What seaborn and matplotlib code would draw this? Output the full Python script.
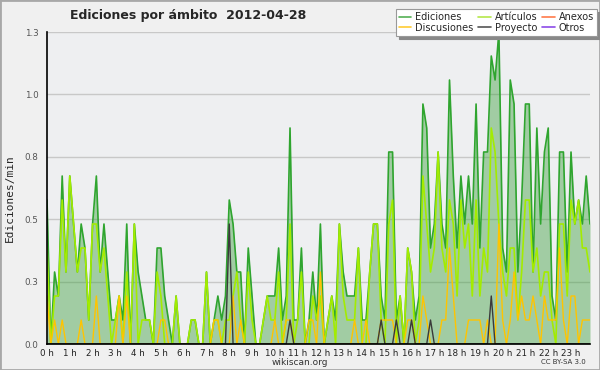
import numpy as np
import pandas as pd
import matplotlib
matplotlib.use("Agg")
import matplotlib.pyplot as plt
import seaborn as sns
from matplotlib.ticker import MultipleLocator
from matplotlib.lines import Line2D
from matplotlib.patches import Rectangle

# ---------------- data (edits per 10-minute bin) ----------------
title = "Ediciones por ámbito  2012-04-28"
bin_minutes = 10.4   # conversion of edits per bin -> edits/min as plotted

ediciones = [6, 0, 3, 2, 7, 3, 7, 5, 3, 5, 4, 1, 5, 7, 3, 5, 3, 1, 1, 2,
             1, 5, 0, 5, 3, 2, 1, 1, 0, 4, 4, 2, 1, 0, 2, 0, 0, 0, 1, 1,
             0, 0, 3, 0, 1, 2, 1, 2, 6, 5, 3, 3, 0, 4, 2, 0, 0, 1, 2, 2,
             2, 4, 1, 2, 9, 1, 1, 4, 0, 1, 3, 1, 5, 0, 1, 2, 1, 5, 3, 2,
             2, 2, 4, 1, 1, 3, 5, 5, 2, 1, 8, 8, 1, 2, 0, 4, 3, 1, 2, 10,
             9, 4, 5, 8, 5, 4, 11, 7, 4, 7, 5, 7, 5, 10, 4, 8, 8, 12, 11, 13,
             4, 3, 11, 10, 3, 6, 10, 10, 3, 9, 5, 8, 9, 2, 1, 8, 8, 3, 8, 5,
             6, 5, 7, 5]
articulos = [4, 0, 2, 2, 6, 3, 7, 5, 3, 4, 4, 1, 5, 5, 3, 4, 2, 0, 1, 2,
             0, 3, 0, 5, 0, 1, 1, 1, 0, 3, 2, 0, 0, 0, 2, 0, 0, 0, 1, 1,
             0, 0, 3, 0, 1, 1, 0, 1, 1, 2, 3, 1, 0, 3, 1, 0, 0, 1, 2, 1,
             1, 3, 0, 1, 5, 0, 1, 3, 0, 0, 2, 1, 2, 0, 1, 2, 0, 5, 2, 1,
             1, 1, 4, 0, 0, 3, 5, 5, 1, 0, 5, 6, 0, 2, 0, 4, 3, 0, 1, 7,
             5, 3, 4, 8, 4, 3, 6, 5, 2, 6, 4, 5, 2, 6, 2, 4, 3, 9, 8, 5,
             3, 2, 4, 4, 1, 3, 6, 6, 3, 4, 2, 3, 3, 1, 0, 5, 5, 2, 6, 5,
             6, 4, 4, 3]
discusiones = [2, 0, 1, 0, 1, 0, 0, 0, 0, 1, 0, 0, 0, 2, 0, 0, 0, 0, 0, 2,
               0, 2, 0, 0, 0, 0, 0, 0, 0, 0, 1, 1, 0, 0, 0, 0, 0, 0, 0, 0,
               0, 0, 0, 0, 1, 1, 0, 0, 0, 2, 0, 1, 0, 0, 0, 0, 0, 0, 0, 0,
               1, 0, 0, 1, 1, 0, 0, 0, 0, 1, 1, 0, 3, 0, 0, 0, 0, 0, 0, 0,
               0, 1, 0, 0, 1, 0, 0, 0, 1, 1, 1, 1, 0, 0, 0, 1, 1, 0, 0, 2,
               1, 0, 0, 0, 1, 1, 4, 2, 0, 0, 0, 1, 1, 1, 1, 0, 1, 0, 0, 5,
               1, 0, 1, 3, 1, 2, 1, 1, 2, 1, 0, 2, 1, 1, 1, 4, 1, 0, 2, 2,
               0, 1, 1, 1]
proyecto = [0, 0, 0, 0, 0, 0, 0, 0, 0, 0, 0, 0, 0, 0, 0, 0, 0, 0, 0, 0,
            0, 0, 0, 0, 0, 0, 0, 0, 0, 0, 0, 0, 0, 0, 0, 0, 0, 0, 0, 0,
            0, 0, 0, 0, 0, 0, 0, 0, 5, 0, 0, 0, 0, 0, 0, 0, 0, 0, 0, 0,
            0, 0, 0, 0, 1, 0, 0, 0, 0, 0, 0, 0, 0, 0, 0, 0, 0, 0, 0, 0,
            0, 0, 0, 0, 0, 0, 0, 0, 1, 0, 0, 0, 1, 0, 0, 0, 1, 0, 0, 0,
            0, 1, 0, 0, 0, 0, 0, 0, 0, 0, 0, 0, 0, 0, 0, 0, 0, 2, 0, 0,
            0, 0, 0, 0, 0, 0, 0, 0, 0, 0, 0, 0, 0, 0, 0, 0, 0, 0, 0, 0,
            0, 0, 0, 0]

hour_labels = [f"{h} h" for h in range(24)]
ytick_values = [0.0, 0.25, 0.5, 0.75, 1.0, 1.25]
ytick_labels = ["0.0", "0.3", "0.5", "0.8", "1.0", "1.3"]

legend_names = ["Ediciones", "Discusiones", "Artículos", "Proyecto", "Anexos", "Otros"]
legend_colors = ["#55b055", "#ffcc33", "#b5e84a", "#555555", "#ff7a4a", "#8c4ce8"]

# ---------------- build table ----------------
hours = np.arange(len(ediciones)) / 6.0
df = pd.DataFrame({
    "hora": hours,
    "Ediciones": np.array(ediciones) / bin_minutes,
    "Artículos": np.array(articulos) / bin_minutes,
    "Discusiones": np.array(discusiones) / bin_minutes,
    "Proyecto": np.array(proyecto) / bin_minutes,
})
long = df.melt(id_vars="hora", var_name="ambito", value_name="tasa")

sns.set_style("white")
plt.rcParams["font.family"] = ["DejaVu Sans"]

W, H = 600, 370
fig = plt.figure(figsize=(6, 3.7), dpi=100, facecolor="#f0f0f0")
ax = fig.add_axes([47 / W, 26 / H, 543 / W, 312 / H])
ax.set_facecolor("#eeeff1")

# filled total
ax.fill_between(df["hora"], df["Ediciones"], 0, color="#3ca03c", alpha=0.43,
                linewidth=0, zorder=1.5)

styles = [("Ediciones", "#2fa52f", 1.2),
          ("Artículos", "#a3ec00", 1.2),
          ("Discusiones", "#ffc400", 1.0),
          ("Proyecto", "#3a3a3a", 1.0)]
for name, col, lw in styles:
    sns.lineplot(data=long[long["ambito"] == name], x="hora", y="tasa",
                 color=col, linewidth=lw, ax=ax, legend=False,
                 estimator=None, sort=True, zorder=2)

ax.set_xlim(0, hours[-1])
ax.set_ylim(0, 1.25)

ax.yaxis.grid(True, color="#c8c8c8", linewidth=1)
ax.xaxis.grid(False)
ax.set_axisbelow(True)

ax.set_xticks(range(24))
ax.set_xticklabels(hour_labels, fontsize=6.3, color="#222222")
ax.xaxis.set_minor_locator(MultipleLocator(1 / 6))
ax.set_yticks(ytick_values)
ax.set_yticklabels(ytick_labels, fontsize=6.3, color="#555555")
ax.yaxis.set_minor_locator(MultipleLocator(0.0625))
ax.tick_params(axis="x", which="major", direction="out", length=3, width=0.8, pad=0.5, color="black")
ax.tick_params(axis="x", which="minor", direction="out", length=3, width=0.8, color="black")
ax.tick_params(axis="y", which="major", direction="out", length=5, width=0.8, pad=1, color="black")
ax.tick_params(axis="y", which="minor", direction="out", length=3, width=0.8, color="black")

for s in ["top", "right"]:
    ax.spines[s].set_visible(False)
for s in ["left", "bottom"]:
    ax.spines[s].set_color("black")
    ax.spines[s].set_linewidth(1.2)
    ax.spines[s].set_zorder(3)

ax.set_xlabel("")
ax.set_ylabel("")

fig.text(188 / W, 1 - 16 / H, title, ha="center", va="center",
         fontsize=9, fontweight="bold")
fig.text(10 / W, 1 - 198 / H, "Ediciones/min", rotation=90, ha="center",
         va="center", fontsize=8, family="DejaVu Sans Mono")
fig.text(300 / W, 1 - 362.5 / H, "wikiscan.org", ha="center", va="center",
         fontsize=6.5, color="#333333")
fig.text(563 / W, 1 - 362.5 / H, "CC BY-SA 3.0", ha="center", va="center",
         fontsize=5, color="#333333")

handles = [Line2D([], [], color=c, linewidth=1.2) for c in legend_colors]
leg = fig.legend(handles, legend_names, loc="upper right",
                 bbox_to_anchor=(597 / W, 1 - 9 / H), ncol=3, fontsize=7,
                 frameon=True, fancybox=False, shadow={"color": "#888888", "alpha": 1},
                 handlelength=1.3, handletextpad=0.4, columnspacing=0.5,
                 labelspacing=0.1, borderpad=0.3, borderaxespad=0)
leg.get_frame().set_edgecolor("#999999")
leg.get_frame().set_facecolor("white")
leg.get_frame().set_linewidth(0.8)

fig.patches.append(Rectangle((0, 0), 1, 1, transform=fig.transFigure, fill=False,
                             edgecolor="#a8a8a8", linewidth=2))

fig.savefig("out.png", dpi=100, facecolor=fig.get_facecolor())
